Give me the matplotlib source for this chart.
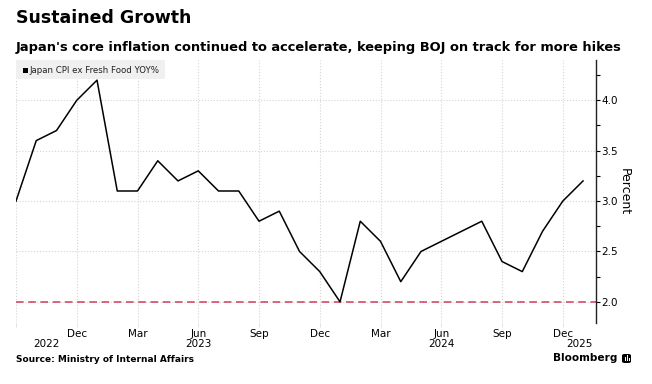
import matplotlib
matplotlib.use("Agg")
import matplotlib.pyplot as plt
from matplotlib.patches import FancyBboxPatch, Rectangle
import matplotlib.transforms as mtransforms

# ---- data ----
months = ["2022-09", "2022-10", "2022-11", "2022-12",
          "2023-01", "2023-02", "2023-03", "2023-04", "2023-05", "2023-06",
          "2023-07", "2023-08", "2023-09", "2023-10", "2023-11", "2023-12",
          "2024-01", "2024-02", "2024-03", "2024-04", "2024-05", "2024-06",
          "2024-07", "2024-08", "2024-09", "2024-10", "2024-11", "2024-12",
          "2025-01"]
cpi_core = [3.0, 3.6, 3.7, 4.0,
            4.2, 3.1, 3.1, 3.4, 3.2, 3.3,
            3.1, 3.1, 2.8, 2.9, 2.5, 2.3,
            2.0, 2.8, 2.6, 2.2, 2.5, 2.6,
            2.7, 2.8, 2.4, 2.3, 2.7, 3.0,
            3.2]
target = 2.0
month_tick_idx = [0, 3, 6, 9, 12, 15, 18, 21, 24, 27]
month_tick_labels = ["", "Dec", "Mar", "Jun", "Sep", "Dec", "Mar", "Jun", "Sep", "Dec"]
year_labels = ["2022", "2023", "2024", "2025"]
year_label_pos = [1.5, 9, 21, 27.8]
y_ticks = [2.0, 2.5, 3.0, 3.5, 4.0]
y_minor = [2.25, 2.75, 3.25, 3.75, 4.25]

title = "Sustained Growth"
subtitle = "Japan's core inflation continued to accelerate, keeping BOJ on track for more hikes"
legend_label = "Japan CPI ex Fresh Food YOY%"
source = "Source: Ministry of Internal Affairs"

plt.rcParams['font.family'] = ['DejaVu Sans']

W, H = 652, 384
fig = plt.figure(figsize=(W / 100, H / 100), dpi=100)
ax = fig.add_axes([16 / W, 1 - 323 / H, (596 - 16) / W, (323 - 60) / H])

x = list(range(len(months)))
ax.plot(x, cpi_core, color="black", lw=1.1, zorder=3)
ax.axhline(target, color="#d23c5f", lw=1.1, ls=(0, (5, 3)), zorder=2)

ax.set_xlim(0, 28.64)
ax.set_ylim(1.79, 4.4)

ax.yaxis.tick_right()
ax.set_yticks(y_ticks)
ax.set_yticklabels([f"{v:.1f}" for v in y_ticks])
ax.set_yticks(y_minor, minor=True)
ax.tick_params(axis="y", which="major", direction="out", length=3, width=0.8,
               labelsize=7.5, pad=1, colors="black")
ax.tick_params(axis="y", which="minor", direction="out", length=3, width=0.8)
ax.yaxis.set_label_position("right")
ax.set_ylabel("Percent", rotation=270, fontsize=9, labelpad=9)

ax.set_xticks(month_tick_idx)
ax.set_xticklabels(month_tick_labels)
ax.tick_params(axis="x", direction="out", length=3, width=0.6, color="#dddddd",
               labelsize=7.5, pad=1.5)

for s in ["top", "left", "bottom"]:
    ax.spines[s].set_visible(False)
ax.spines["right"].set_linewidth(1.0)
ax.spines["right"].set_color("#222222")

ax.grid(True, which="major", color="#d4d4d4", ls=":", lw=0.8)
ax.set_axisbelow(True)

trans = mtransforms.blended_transform_factory(ax.transData, ax.transAxes)
for lab, pos in zip(year_labels, year_label_pos):
    ax.text(pos, -0.06, lab, transform=trans, ha="center", va="top", fontsize=7.5)

# legend box
ax.add_patch(Rectangle((0, 1 - 19 / 263), 149 / 580, 19 / 263, transform=ax.transAxes,
                       facecolor="#f0f0f0", edgecolor="none", zorder=4))
ax.add_patch(Rectangle((6.5 / 580, 1 - 13 / 263), 5.5 / 580, 5.5 / 263, transform=ax.transAxes,
                       facecolor="black", edgecolor="none", zorder=5))
ax.text(13.5 / 580, 1 - 10.5 / 263, legend_label, transform=ax.transAxes, fontsize=6.2,
        va="center", ha="left", zorder=5, color="#222222")

fig.text(16 / W, 1 - 18 / H, title, fontsize=12.5, fontweight="bold", va="center", ha="left")
fig.text(16 / W, 1 - 47 / H, subtitle, fontsize=9.4, fontweight="bold", va="center", ha="left")
fig.text(16 / W, 1 - 359 / H, source, fontsize=6.5, fontweight="bold", va="center", ha="left")
fig.text(617 / W, 1 - 358 / H, "Bloomberg", fontsize=7.6, fontweight="bold", va="center", ha="right")
fig.patches.append(FancyBboxPatch((622 / W, 1 - 363 / H), 9 / W, 9 / H,
                                  boxstyle="round,pad=0,rounding_size=0.004",
                                  transform=fig.transFigure, facecolor="black", edgecolor="none"))
for bx, bh in [(624.5, 4), (626.5, 6), (628.5, 3)]:
    fig.patches.append(Rectangle((bx / W, 1 - 361 / H), 1 / W, bh / H, transform=fig.transFigure,
                                 facecolor="white", edgecolor="none"))

fig.savefig("out.png", dpi=100)
